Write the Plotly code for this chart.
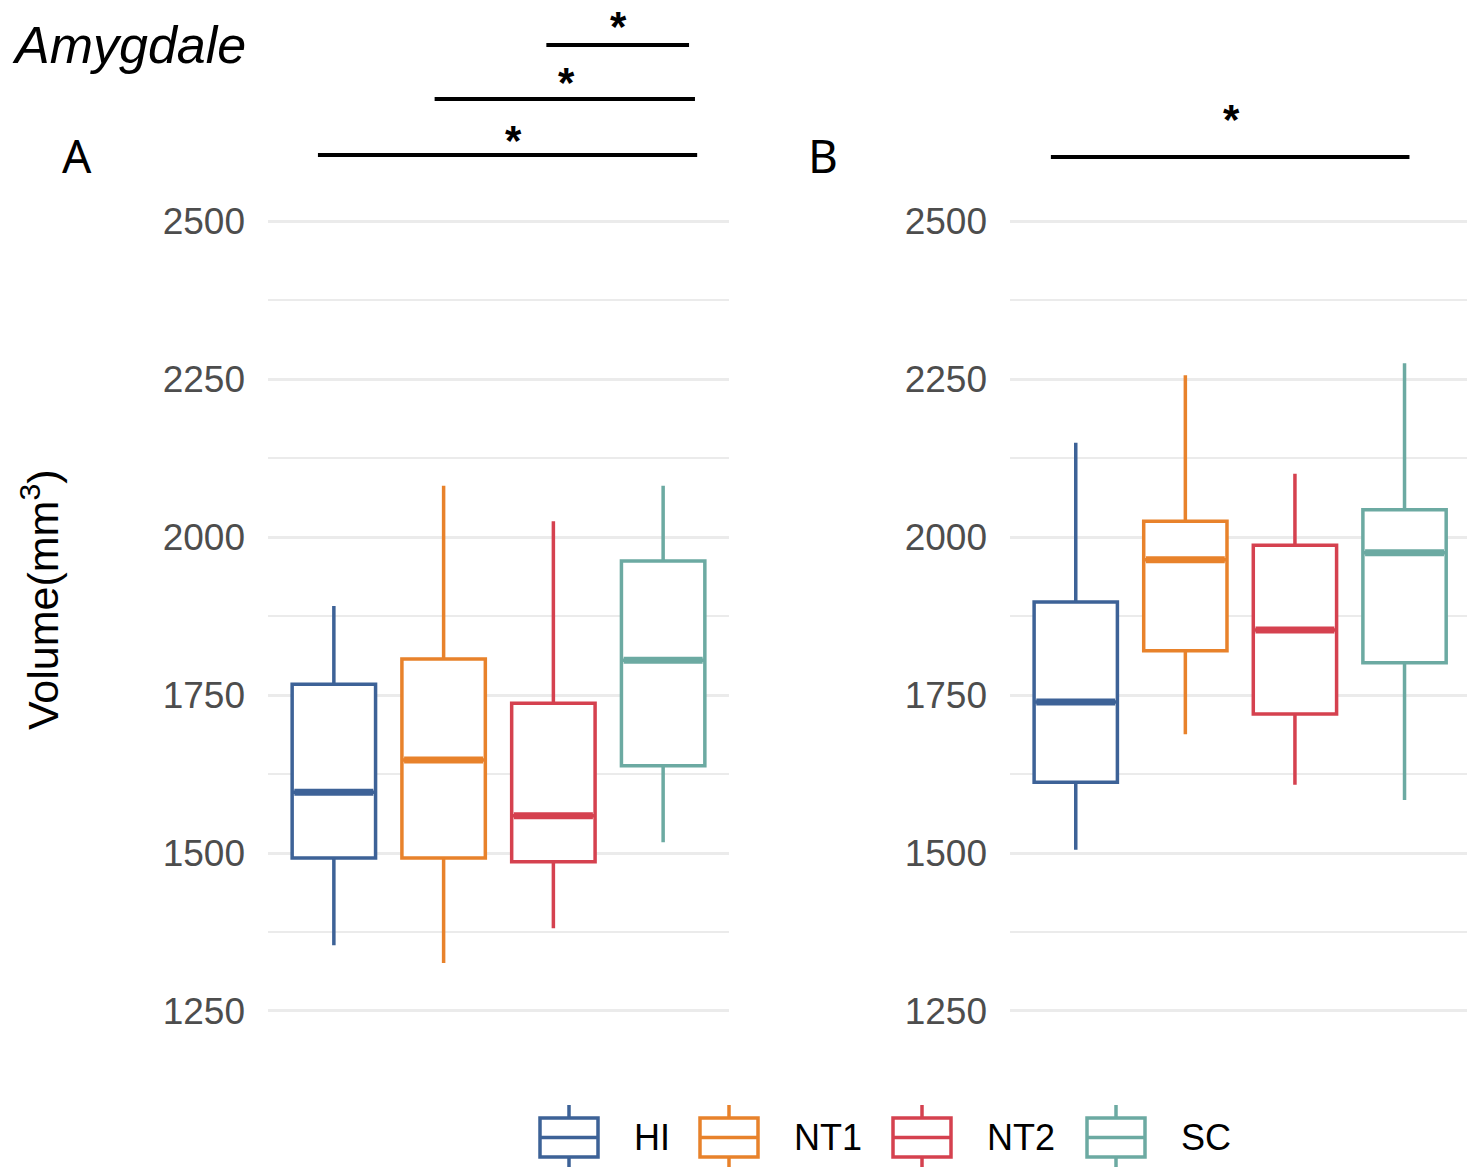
import plotly.graph_objects as go

# Amygdala volume summaries (mm^3) per group, two panels
groups = ["HI", "NT1", "NT2", "SC"]
colors = ["#3d6297", "#e8822b", "#d5414f", "#6caaa2"]

a_q1 = [1492, 1492, 1486, 1638]
a_median = [1596, 1647, 1559, 1805]
a_q3 = [1767, 1807, 1737, 1962]
a_low = [1354, 1326, 1381, 1517]
a_high = [1891, 2081, 2025, 2081]

b_q1 = [1612, 1820, 1720, 1801]
b_median = [1739, 1964, 1853, 1975]
b_q3 = [1897, 2025, 1987, 2043]
b_low = [1505, 1688, 1608, 1584]
b_high = [2149, 2256, 2100, 2275]

y_ticks = [1250, 1500, 1750, 2000, 2250, 2500]

# significance brackets: (x start, x end, paper y, star x, star y)
sig_a = [(0.855, 4.31, 0.8672, 2.636, 0.880),
         (1.918, 4.29, 0.9152, 3.118, 0.929),
         (2.936, 4.236, 0.9614, 3.59, 0.977)]
sig_b = [(0.773, 4.045, 0.8655, 2.418, 0.898)]

W, H = 1467, 1167
positions = [1, 2, 3, 4]
box_w = 0.76
box_lw = 3.5

fig = go.Figure()


def add_panel(q1, med, q3, lo, hi, xa, ya):
    for i, g in enumerate(groups):
        fig.add_trace(go.Box(
            x=[positions[i]], q1=[q1[i]], median=[med[i]], q3=[q3[i]],
            lowerfence=[lo[i]], upperfence=[hi[i]],
            name=g, legendgroup=g, showlegend=False,
            line=dict(color=colors[i], width=box_lw), fillcolor="white",
            whiskerwidth=0, width=box_w, boxpoints=False,
            xaxis=xa, yaxis=ya, hoverinfo="skip",
        ))
        # thicker median stroke
        fig.add_trace(go.Scatter(
            x=[positions[i] - box_w / 2 + 0.02, positions[i] + box_w / 2 - 0.02],
            y=[med[i], med[i]], mode="lines",
            line=dict(color=colors[i], width=7),
            showlegend=False, xaxis=xa, yaxis=ya, hoverinfo="skip",
        ))


add_panel(a_q1, a_median, a_q3, a_low, a_high, "x", "y")
add_panel(b_q1, b_median, b_q3, b_low, b_high, "x2", "y2")

shapes = []
annotations = []
for xr, sigs in (("x", sig_a), ("x2", sig_b)):
    for x0, x1, yl, sx, sy in sigs:
        shapes.append(dict(type="line", xref=xr, yref="paper", x0=x0, x1=x1,
                           y0=yl, y1=yl, line=dict(color="black", width=4)))
        annotations.append(dict(text="<b>*</b>", xref=xr, yref="paper", x=sx, y=sy,
                                showarrow=False, font=dict(size=42, color="black"),
                                xanchor="center", yanchor="middle"))

# legend drawn as box glyphs with labels along the bottom
key_left = [540, 700, 893, 1087]
key_w, key_top, key_bot = 58, 1118, 1157
whisk_top, whisk_bot = 1105, 1167
label_gap = 34


def px(x):
    return x / W


def py(y):
    return 1 - y / H


for i, g in enumerate(groups):
    x0 = key_left[i]
    xc = x0 + key_w / 2
    ym = (key_top + key_bot) / 2
    ln = dict(color=colors[i], width=box_lw)
    shapes.append(dict(type="line", xref="paper", yref="paper", x0=px(xc), x1=px(xc),
                       y0=py(whisk_top), y1=py(whisk_bot), line=ln, layer="above"))
    shapes.append(dict(type="rect", xref="paper", yref="paper", x0=px(x0), x1=px(x0 + key_w),
                       y0=py(key_top), y1=py(key_bot), line=ln, fillcolor="white",
                       layer="above"))
    shapes.append(dict(type="line", xref="paper", yref="paper", x0=px(x0), x1=px(x0 + key_w),
                       y0=py(ym), y1=py(ym), line=ln, layer="above"))
    annotations.append(dict(text=g, xref="paper", yref="paper", x=px(x0 + key_w + label_gap),
                            y=py(ym), xanchor="left", yanchor="middle", showarrow=False,
                            font=dict(size=36, color="black", family="Liberation Sans")))

annotations += [
    dict(text="<i>Amygdale</i>", xref="paper", yref="paper", x=px(10), y=py(45),
         xanchor="left", yanchor="middle", showarrow=False,
         font=dict(size=52, color="black", family="Liberation Sans")),
    dict(text="A", xref="paper", yref="paper", x=px(77), y=py(155),
         xanchor="center", yanchor="middle", showarrow=False,
         font=dict(size=46, color="black", family="Noto Sans")),
    dict(text="B", xref="paper", yref="paper", x=px(823), y=py(155),
         xanchor="center", yanchor="middle", showarrow=False,
         font=dict(size=46, color="black", family="Noto Sans")),
    dict(text="Volume(mm<sup>3</sup>)", xref="paper", yref="paper", x=px(40),
         y=py(600), xanchor="center", yanchor="middle", textangle=-90,
         showarrow=False, font=dict(size=43, color="black", family="Liberation Sans")),
]

yaxis_style = dict(
    range=[1200, 2550], tickvals=y_ticks, showline=False, zeroline=False,
    showgrid=True, gridcolor="#ebebeb", gridwidth=3,
    minor=dict(dtick=125, tick0=1250, showgrid=True, gridcolor="#ebebeb", gridwidth=2),
    tickfont=dict(size=37, color="#4d4d4d", family="Liberation Sans"),
    ticklabelstandoff=22, domain=[0.1066, 0.8377],
)
xaxis_style = dict(showgrid=False, showticklabels=False, zeroline=False,
                   showline=False, ticks="")

fig.update_layout(
    width=W, height=H,
    margin=dict(l=0, r=0, t=0, b=0),
    paper_bgcolor="white", plot_bgcolor="white",
    xaxis=dict(xaxis_style, domain=[px(268), px(729)], range=[0.4, 4.6]),
    xaxis2=dict(xaxis_style, domain=[px(1010), 1.0], range=[0.4, 4.57]),
    yaxis=dict(yaxis_style, anchor="x"),
    yaxis2=dict(yaxis_style, anchor="x2"),
    shapes=shapes, annotations=annotations,
    showlegend=False,
    font=dict(family="Liberation Sans"),
)

fig.write_html("out.html")
